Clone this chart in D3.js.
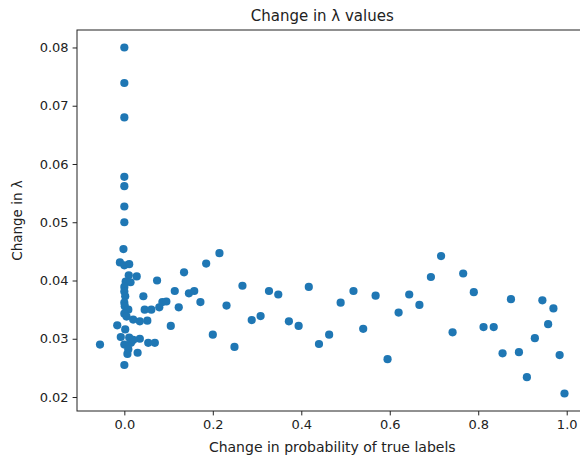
<!DOCTYPE html>
<html><head><meta charset="utf-8">
<script src="https://cdn.jsdelivr.net/npm/d3@7"></script>
<style>body{margin:0;background:#fff}text{font-family:"DejaVu Sans",sans-serif;fill:#222}</style>
</head><body><svg id="c" width="580" height="458"></svg>
<script>
const xValues = [0,0,0,0,0,0,0,-0.002,
 -0.010,0.000,0.011,0.010,0.028,0.003,0.014,0.000,0.000,0.002,0.000,0.001,0.009,0.000,0.005,0.020,0.035,0.052,-0.016,0.002,-0.008,0.011,0.035,0.015,0.000,0.054,0.069,-0.055,0.009,0.007,0.030,0.000,0.020,
 0.074,0.043,0.046,0.061,0.079,0.086,0.095,0.105,0.114,0.123,0.135,0.146,0.158,0.172,0.185,0.215,0.200,0.231,0.249,0.267,0.288,0.308,0.327,0.348,0.372,0.394,0.417,0.440,0.463,0.489,0.518,0.540,0.568,0.595,0.620,0.644,0.667,0.693,0.716,0.742,0.766,0.790,0.812,0.835,0.855,0.874,0.892,0.910,0.928,0.945,0.958,0.970,0.984,0.995];
const yValues = [0.0800,0.0739,0.0680,0.0578,0.0562,0.0527,0.0500,0.0454,
 0.0431,0.0426,0.0428,0.0409,0.0407,0.0398,0.0397,0.0389,0.0381,0.0373,0.0362,0.0356,0.0350,0.0343,0.0338,0.0333,0.0330,0.0331,0.0323,0.0316,0.0303,0.0302,0.0300,0.0293,0.0290,0.0293,0.0293,0.0290,0.0282,0.0274,0.0276,0.0255,0.0298,
 0.0400,0.0373,0.0350,0.0350,0.0354,0.0363,0.0364,0.0322,0.0382,0.0354,0.0414,0.0378,0.0382,0.0363,0.0429,0.0447,0.0307,0.0357,0.0286,0.0391,0.0332,0.0339,0.0382,0.0376,0.0330,0.0322,0.0389,0.0291,0.0307,0.0362,0.0382,0.0317,0.0374,0.0265,0.0345,0.0376,0.0358,0.0406,0.0442,0.0311,0.0412,0.0380,0.0320,0.0320,0.0275,0.0368,0.0277,0.0234,0.0301,0.0366,0.0325,0.0352,0.0272,0.0206];
const xTicks = [0.0,0.2,0.4,0.6,0.8,1.0];
const yTicks = [0.02,0.03,0.04,0.05,0.06,0.07,0.08];
const titleText = "Change in λ values";
const xLabel = "Change in probability of true labels";
const yLabel = "Change in λ";

const svg = d3.select("#c");
const L = 77, R = 587.5, T = 30, B = 411;
const x = d3.scaleLinear().domain([-0.107, 1.047]).range([L, R]);
const y = d3.scaleLinear().domain([0.0176, 0.083]).range([B, T]);

svg.append("g").selectAll("circle").data(xValues.map((v,i)=>[v,yValues[i]])).join("circle")
  .attr("cx", d=>x(d[0])).attr("cy", d=>y(d[1])).attr("r", 4.1).attr("fill", "#1f77b4");

const xa = svg.append("g").attr("transform", `translate(0,${B})`)
  .call(d3.axisBottom(x).tickValues(xTicks).tickFormat(d3.format(".1f")).tickSize(4.4).tickPadding(4));
const ya = svg.append("g").attr("transform", `translate(${L},0)`)
  .call(d3.axisLeft(y).tickValues(yTicks).tickFormat(d3.format(".2f")).tickSize(4.4).tickPadding(4));
[xa, ya].forEach(a=>{
  a.selectAll("text").attr("font-size", 13).attr("font-family", "DejaVu Sans").attr("fill", "#222");
  a.selectAll("line").attr("stroke", "#222").attr("stroke-width", 1);
  a.select(".domain").remove();
});
// spines
svg.append("rect").attr("x", L).attr("y", T).attr("width", R-L).attr("height", B-T)
  .attr("fill", "none").attr("stroke", "#222").attr("stroke-width", 1);

svg.append("text").attr("x", (L+R)/2 - 10).attr("y", 21).attr("text-anchor", "middle")
  .attr("font-size", 15).text(titleText);
svg.append("text").attr("x", (L+R)/2).attr("y", 452).attr("text-anchor", "middle")
  .attr("font-size", 14).text(xLabel);
svg.append("text").attr("transform", `translate(22,${(T+B)/2}) rotate(-90)`).attr("text-anchor", "middle")
  .attr("font-size", 13.5).text(yLabel);
</script></body></html>
